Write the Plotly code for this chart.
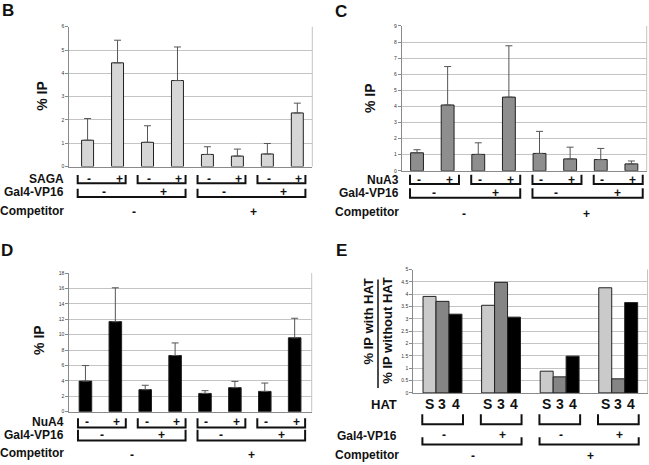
import plotly.graph_objects as go

W, H = 649, 465
FONT = "Liberation Sans, Arial, Helvetica, sans-serif"

# ---------------- data ----------------
hat_sign = ["-", "+", "-", "+", "-", "+", "-", "+"]   # HAT complex added (per bar)
gal_sign = ["-", "+", "-", "+"]                        # Gal4-VP16 (per pair)
comp_sign = ["-", "+"]                                 # competitor (per 4 bars)

saga_ip = [1.13, 4.45, 1.04, 3.69, 0.52, 0.45, 0.54, 2.30]
saga_sd = [0.93, 0.97, 0.71, 1.44, 0.33, 0.30, 0.45, 0.42]

nua3_ip = [1.12, 4.09, 1.02, 4.58, 1.08, 0.74, 0.70, 0.43]
nua3_sd = [0.19, 2.39, 0.72, 3.19, 1.37, 0.73, 0.69, 0.18]

nua4_ip = [3.97, 11.70, 2.86, 7.30, 2.37, 3.12, 2.63, 9.60]
nua4_sd = [2.02, 4.40, 0.57, 1.63, 0.36, 0.81, 1.09, 2.54]

hat_labels = ["S", "3", "4"]
ratio_saga = [3.91, 3.55, 0.88, 4.26]
ratio_nua3 = [3.71, 4.48, 0.65, 0.57]
ratio_nua4 = [3.19, 3.07, 1.49, 3.66]


def px(x):
    return x / W


def py(y):
    return 1 - y / H


fig = go.Figure()
layout = dict(
    width=W, height=H, margin=dict(l=0, r=0, t=0, b=0),
    paper_bgcolor="white", plot_bgcolor="white", showlegend=False,
    barmode="group", bargap=0.336, bargroupgap=0,
    font=dict(family=FONT, color="#111"),
)
shapes, annots = [], []

GRID = "#c4c4c4"
AXL = "#8a8a8a"


def axes(n, dom, yrange, dtick, xrange):
    sfx = "" if n == 1 else str(n)
    x0, x1, ytop, ybot = dom
    layout["xaxis" + sfx] = dict(
        domain=[px(x0), px(x1)], range=xrange, anchor="y" + sfx,
        showline=True, linecolor=AXL, linewidth=1, showgrid=False,
        zeroline=False, showticklabels=False, ticks="", fixedrange=True)
    layout["yaxis" + sfx] = dict(
        domain=[py(ybot), py(ytop)], range=yrange, dtick=dtick, anchor="x" + sfx,
        showline=True, linecolor=AXL, linewidth=1, showgrid=True,
        gridcolor=GRID, gridwidth=1, zeroline=False, ticks="outside",
        ticklen=3, tickcolor=AXL, tickfont=dict(size=5, color="#333"),
        fixedrange=True)
    shapes.append(dict(type="line", xref="x" + sfx + " domain", yref="y" + sfx + " domain",
                       x0=1, x1=1, y0=0, y1=1, line=dict(color=GRID, width=1)))
    return "x" + sfx, "y" + sfx


def bracket(xref, xa, xb, ytop, ybot):
    shapes.append(dict(
        type="path", xref=xref, yref="paper",
        path=f"M{xa},{py(ytop)} L{xa},{py(ybot)} L{xb},{py(ybot)} L{xb},{py(ytop)}",
        line=dict(color="#111", width=2)))


def text(xref, x, y, s, size=12, xanchor="center", angle=0, yanchor="middle"):
    annots.append(dict(
        xref=xref, yref="paper", x=x if xref != "paper" else px(x), y=py(y),
        text=s, showarrow=False, xanchor=xanchor, yanchor=yanchor, textangle=angle,
        font=dict(family=FONT, size=size, color="#111", weight="bold"), borderpad=0))


panels = [
    dict(letter="B", pos=(8, 8), name="SAGA", vals=saga_ip, sd=saga_sd, color="#d6d6d6",
         dom=(69.3, 312.3, 24, 165.7), yr=[0, 6], dt=1, xr=[-0.61, 7.5], width=0.4,
         pad=(-0.33, 0.27), lab_x=64.5, title=(42, 94),
         rows=(178.5, 174.3, 182.7, 191.8, 188.3, 196.5, 210.7, 212)),
    dict(letter="C", pos=(340.5, 8.5), name="NuA3", vals=nua3_ip, sd=nua3_sd, color="#8e8e8e",
         dom=(401.7, 646.7, 23.3, 170), yr=[0, 9], dt=1, xr=[-0.5, 7.5], width=0.42,
         pad=(-0.23, 0.37), lab_x=399.5, title=(369.3, 96),
         rows=(179, 174, 183.3, 192.5, 187.7, 197.3, 211.7, 213.5)),
    dict(letter="D", pos=(6.7, 250.3), name="NuA4", vals=nua4_ip, sd=nua4_sd, color="#000000",
         dom=(69.3, 311.7, 273.7, 414), yr=[0, 18], dt=2, xr=[-0.54, 7.57], width=0.42,
         pad=(-0.25, 0.35), lab_x=64.5, title=(38.3, 341),
         rows=(424.0, 420.7, 430, 437.2, 432.3, 443.3, 456, 458)),
]

for i, p in enumerate(panels, start=1):
    xr, yr = axes(i, p["dom"], p["yr"], p["dt"], p["xr"])
    n = len(p["vals"])
    xs = list(range(n))
    fig.add_trace(go.Bar(
        x=xs, y=p["vals"], xaxis=xr, yaxis=yr, width=p["width"],
        marker=dict(color=p["color"], line=dict(color="#222", width=1)),
        error_y=dict(type="data", symmetric=False, array=p["sd"], arrayminus=[0] * n,
                     color="#555", thickness=1, width=3.5),
        hoverinfo="skip"))
    t_pair, b1t, b1b, t_gal, b2t, b2b, t_comp, t_cs = p["rows"]
    pl, pr = p["pad"]
    # HAT row
    text("paper", p["lab_x"], t_pair, p["name"], xanchor="right")
    for k in range(n):
        text(xr, k + 0.05, t_pair, hat_sign[k])
    for k in range(n // 2):
        bracket(xr, 2 * k + pl, 2 * k + 1 + pr, b1t, b1b)
    # Gal4-VP16 row
    text("paper", p["lab_x"], t_gal, "Gal4-VP16", xanchor="right")
    for k in range(n // 2):
        text(xr, 2 * k + 0.55, t_gal, gal_sign[k])
    for k in range(n // 4):
        bracket(xr, 4 * k + pl, 4 * k + 3 + pr, b2t, b2b)
    # Competitor row
    text("paper", p["lab_x"] + 0.5, t_comp, "Competitor", xanchor="right")
    for k in range(n // 4):
        text(xr, 4 * k + 1.55, t_cs, comp_sign[k])
    # y title and panel letter
    text("paper", p["title"][0], p["title"][1], "% IP", size=14, angle=-90)
    text("paper", p["pos"][0], p["pos"][1], p["letter"], size=17)

# ---------------- panel E ----------------
xr, yr = axes(4, (413.2, 647.5, 270, 395), [0, 5], 0.5, [-0.5, 3.5])
groups = list(range(len(ratio_saga)))
for vals, col, nm in [(ratio_saga, "#cacaca", "S"), (ratio_nua3, "#858585", "3"),
                      (ratio_nua4, "#000000", "4")]:
    fig.add_trace(go.Bar(x=groups, y=vals, xaxis=xr, yaxis=yr, name=nm, offsetgroup=nm,
                         marker=dict(color=col, line=dict(color="#222", width=1)),
                         hoverinfo="skip"))

text("paper", 397.5, 406.7, "HAT", size=13, xanchor="right")
for g in groups:
    for j, lab in enumerate(hat_labels):
        text(xr, g + (j - 1) * 0.225, 406.7, lab, size=14)
    bracket(xr, g - 0.345, g + 0.35, 416.7, 426.7)
    text(xr, g + 0.02, 437.5, gal_sign[g])
for k in range(len(groups) // 2):
    bracket(xr, 2 * k - 0.343, 2 * k + 1.35, 440, 447.3)
    text(xr, 2 * k + 0.52, 459, comp_sign[k])
text("paper", 397.5, 438.3, "Gal4-VP16", xanchor="right")
text("paper", 399.5, 458.3, "Competitor", xanchor="right")

# fraction-style y title
text("paper", 368, 278, "% IP with HAT", size=13, angle=-90, yanchor="top")
text("paper", 387.5, 331.5, "% IP without HAT", size=13, angle=-90)
shapes.append(dict(type="line", xref="paper", yref="paper", x0=px(378), x1=px(378),
                   y0=py(280), y1=py(390), line=dict(color="#111", width=1.5)))
text("paper", 341.2, 250.3, "E", size=17)

layout["shapes"] = shapes
layout["annotations"] = annots
fig.update_layout(**layout)
fig.write_html("out.html", config={"displayModeBar": False},
               post_script="document.body.style.margin='0';document.body.style.padding='0';")
